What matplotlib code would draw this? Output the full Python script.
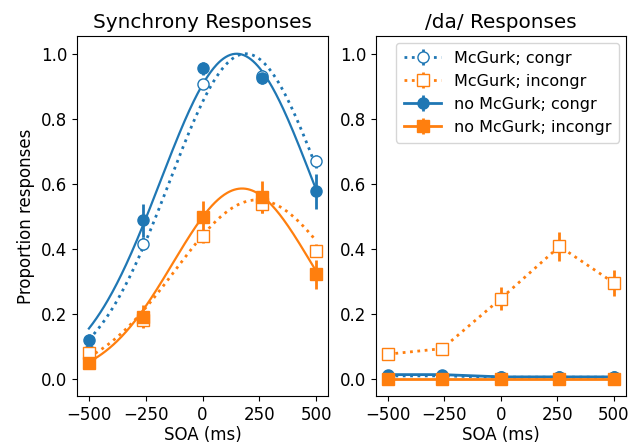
import numpy as np
import matplotlib
matplotlib.use("Agg")
import matplotlib.pyplot as plt

plt.rcParams["font.size"] = 12
plt.rcParams["axes.titlesize"] = 14.4

soa = [-500, -260, 0, 260, 500]
xticks = [-500, -250, 0, 250, 500]

# Synchrony responses
sync_mcg_congr = [0.085, 0.415, 0.908, 0.93, 0.669]
sync_mcg_congr_err = [0.01, 0.02, 0.015, 0.02, 0.02]
sync_mcg_incongr = [0.077, 0.18, 0.438, 0.536, 0.393]
sync_mcg_incongr_err = [0.01, 0.02, 0.02, 0.025, 0.02]
sync_no_congr = [0.118, 0.487, 0.956, 0.926, 0.576]
sync_no_congr_err = [0.02, 0.05, 0.02, 0.02, 0.055]
sync_no_incongr = [0.049, 0.19, 0.497, 0.559, 0.321]
sync_no_incongr_err = [0.01, 0.035, 0.05, 0.05, 0.045]

# Gaussian fit parameters: amplitude, mean, sd
fit_mcg_congr = (1.0, 190, 335)
fit_mcg_incongr = (0.55, 240, 360)
fit_no_congr = (1.0, 150, 336)
fit_no_incongr = (0.585, 174, 305)

# /da/ responses
da_mcg_congr = [0.008, 0.008, 0.004, 0.004, 0.004]
da_mcg_congr_err = [0.005, 0.005, 0.003, 0.003, 0.003]
da_mcg_incongr = [0.075, 0.092, 0.246, 0.407, 0.295]
da_mcg_incongr_err = [0.012, 0.015, 0.035, 0.045, 0.04]
da_no_congr = [0.012, 0.012, 0.005, 0.005, 0.005]
da_no_congr_err = [0.006, 0.006, 0.003, 0.003, 0.003]
da_no_incongr = [0.0, 0.0, 0.0, 0.0, 0.0]
da_no_incongr_err = [0.0, 0.0, 0.0, 0.0, 0.0]

labels = ["McGurk; congr", "McGurk; incongr", "no McGurk; congr", "no McGurk; incongr"]
blue = "#1f77b4"
orange = "#ff7f0e"

fig = plt.figure(figsize=(6.3, 4.47), dpi=100)
ax1 = fig.add_axes([0.122, 0.114, 0.399, 0.805])
ax2 = fig.add_axes([0.597, 0.114, 0.396, 0.805], sharey=ax1)

def gauss(x, p):
    a, m, s = p
    return a * np.exp(-(x - m) ** 2 / (2 * s ** 2))

xs = np.linspace(-500, 500, 300)
ms = 8
# Left panel
ax1.errorbar(soa, sync_mcg_congr, yerr=sync_mcg_congr_err, fmt="o", color=blue,
             mfc="white", ms=ms, elinewidth=2)
ax1.plot(xs, gauss(xs, fit_mcg_congr), ":", color=blue, lw=2)
ax1.errorbar(soa, sync_mcg_incongr, yerr=sync_mcg_incongr_err, fmt="s", color=orange,
             mfc="white", ms=ms, elinewidth=2)
ax1.plot(xs, gauss(xs, fit_mcg_incongr), ":", color=orange, lw=2)
ax1.errorbar(soa, sync_no_congr, yerr=sync_no_congr_err, fmt="o", color=blue,
             ms=ms, elinewidth=2)
ax1.plot(xs, gauss(xs, fit_no_congr), "-", color=blue, lw=1.6)
ax1.errorbar(soa, sync_no_incongr, yerr=sync_no_incongr_err, fmt="s", color=orange,
             ms=ms, elinewidth=2)
ax1.plot(xs, gauss(xs, fit_no_incongr), "-", color=orange, lw=1.6)

# Right panel
ax2.errorbar(soa, da_mcg_congr, yerr=da_mcg_congr_err, fmt="o:", color=blue,
             mfc="white", ms=ms, lw=2, elinewidth=2, label=labels[0])
ax2.errorbar(soa, da_mcg_incongr, yerr=da_mcg_incongr_err, fmt="s:", color=orange,
             mfc="white", ms=ms, lw=2, elinewidth=2, label=labels[1])
ax2.errorbar(soa, da_no_congr, yerr=da_no_congr_err, fmt="o-", color=blue,
             ms=ms, lw=2, elinewidth=2, label=labels[2])
ax2.errorbar(soa, da_no_incongr, yerr=da_no_incongr_err, fmt="s-", color=orange,
             ms=ms, lw=2, elinewidth=2, label=labels[3])
ax2.legend(loc="upper right", fontsize=11.5, labelspacing=0.5,
           borderpad=0.5, handlelength=2.3, borderaxespad=0.4)

for ax in (ax1, ax2):
    ax.set_xlim(-553, 553)
    ax.set_xticks(xticks)
    ax.set_xlabel("SOA (ms)", labelpad=1.5)
ax1.set_ylim(-0.054, 1.054)
ax2.tick_params(labelleft=True)
ax1.set_ylabel("Proportion responses")
ax1.set_title("Synchrony Responses")
ax2.set_title("/da/ Responses")

fig.savefig("out.png", dpi=100)
